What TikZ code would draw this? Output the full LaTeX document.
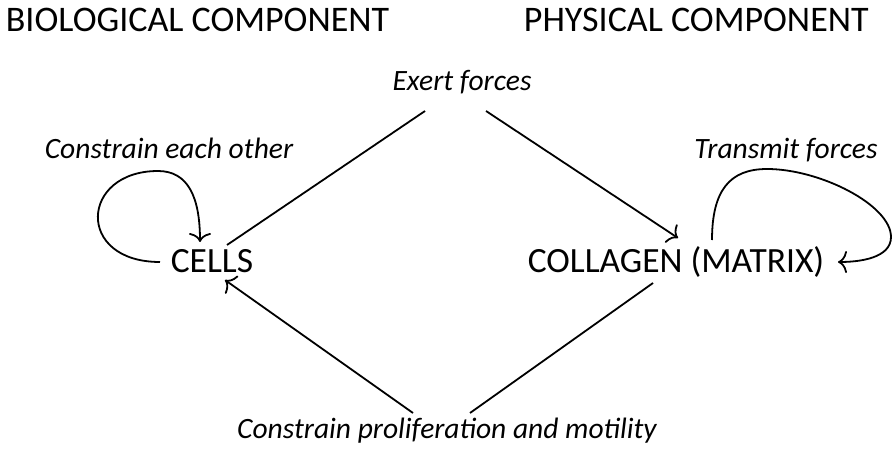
\documentclass[tikz,border=0pt]{standalone}
\usepackage{fontspec}
\setmainfont{Carlito}
\usetikzlibrary{arrows.meta}

\begin{document}
\begin{tikzpicture}[x=1pt,y=-1pt,line width=1.8pt,
    >={To[length=9pt,width=22pt]},
    every node/.style={inner sep=0pt,anchor=base},
    head/.style={anchor=base west,font=\fontsize{36}{42}\selectfont},
    part/.style={font=\fontsize{35.5}{42}\selectfont},
    act/.style={font=\fontsize{29.5}{35}\selectfont\itshape}]
    \useasboundingbox (0,0) rectangle (893,449);

    \node[head] (bio) at (5,32) {BIOLOGICAL COMPONENT};
    \node[head] (phys) at (523,32) {PHYSICAL COMPONENT};

    \node[part] (cells) at (212,272) {CELLS};
    \node[part] (matrix) at (676,272) {COLLAGEN (MATRIX)};

    \node[act] (exert) at (462,91) {Exert forces};
    \node[act] (each) at (169,159) {Constrain each other};
    \node[act] (trans) at (786,159) {Transmit forces};
    \node[act] (motil) at (447,438) {Constrain proliferation and motility};

    % diamond
    \draw ([shift={(-37,20)}]exert.base) -- ([shift={(15,-27)}]cells.base);
    \draw[->] ([shift={(24,20)}]exert.base) -- ([shift={(2,-34)}]matrix.base);
    \draw[->] ([shift={(-34,-25)}]motil.base) -- ([shift={(13,8)}]cells.base);
    \draw ([shift={(-23,11)}]matrix.base) -- ([shift={(23,-25)}]motil.base);

    % self loops
    \draw[->] ([shift={(-52,-10)}]cells.base) .. controls +(-85,0) and +(-78,0) .. ++(-2,-91)
        .. controls +(30,0) and +(0,-45) .. ([shift={(-12,-30)}]cells.base);
    \draw[->] ([shift={(36,-32)}]matrix.base) .. controls +(0,-50) and +(-37,0) .. ++(55,-71)
        .. controls +(53,0) and +(0,-32) .. ++(124,68)
        .. controls +(0,21) and +(22,0) .. ([shift={(162,-10)}]matrix.base);
\end{tikzpicture}
\end{document}
